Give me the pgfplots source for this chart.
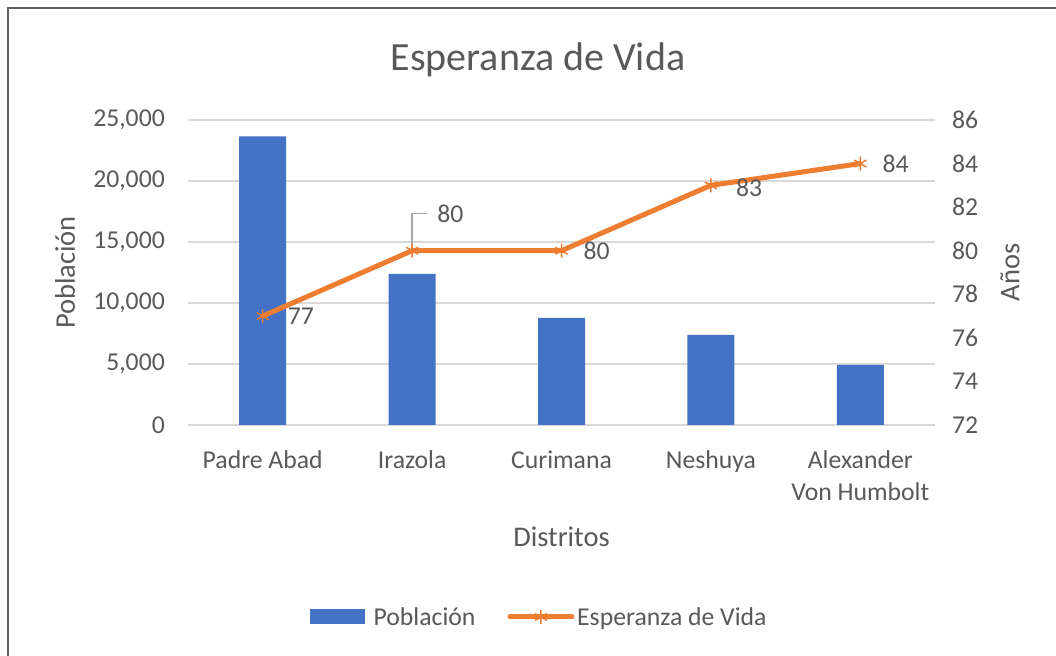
\documentclass[border=0pt]{standalone}
\usepackage{fontspec}
\setmainfont{Carlito}
\usepackage{pgfplots}
\pgfplotsset{compat=1.18}
\definecolor{barblue}{HTML}{4472C4}
\definecolor{lineor}{HTML}{ED7D31}
\definecolor{txt}{HTML}{595959}
\definecolor{gridc}{HTML}{D9D9D9}
\newcommand{\tickfont}{\fontsize{25.7bp}{32bp}\selectfont}
\newcommand{\labfont}{\fontsize{28.5bp}{34bp}\selectfont}
\newcommand{\titfont}{\fontsize{40bp}{48bp}\selectfont}
\begin{document}
\begin{tikzpicture}[x=1bp,y=1bp]
\useasboundingbox (0,0) rectangle (1056,656);
\draw[gray!75!black, line width=2bp] (8,0) -- (8,648) -- (1056,648);
\node[txt, font=\titfont] at (538,596) {Esperanza de Vida};
\begin{axis}[
  at={(188bp,231bp)}, anchor=south west, scale only axis,
  width=747bp, height=305bp,
  xmin=-0.5, xmax=4.5, ymin=0, ymax=25000,
  ytick={0,5000,10000,15000,20000,25000},
  xtick={0,1,2,3,4},
  xticklabels={\strut Padre Abad, \strut Irazola, \strut Curimana, \strut Neshuya, {\strut Alexander\\Von Humbolt}},
  axis line style={draw=none},
  major tick length=0pt,
  ymajorgrids, grid style={gridc, line width=1.5bp},
  scaled y ticks=false,
  /pgf/number format/.cd, 1000 sep={,}, assume math mode=true, /pgfplots/.cd,
  tick label style={font=\tickfont, txt, inner sep=0pt},
  yticklabel style={anchor=east, xshift=-23bp},
  xticklabel style={anchor=north, yshift=-20.5bp, align=center},
  xlabel={Distritos}, ylabel={Población},
  every axis x label/.style={at={(axis description cs:0.5,-0.367)}, anchor=center, font=\labfont, txt},
  every axis y label/.style={at={(axis description cs:-0.1647,0.5)}, anchor=center, rotate=90, font=\labfont, txt},
  legend style={at={(axis description cs:0.47,-0.6295)}, anchor=center, draw=none, font=\tickfont, text=txt, legend columns=2,
    /tikz/every even column/.append style={column sep=30bp}, inner sep=0pt},
]
\addplot[ybar, bar width=47bp, fill=barblue, draw=none,
  legend image code/.code={\fill[barblue] (0bp,-7.5bp) rectangle (55bp,7.5bp); \path (62bp,0bp);}]
  coordinates {(0,23650) (1,12380) (2,8770) (3,7380) (4,4920)};
\addlegendentry{Población}
\addlegendimage{legend image code/.code={
  \draw[lineor, line width=5bp, line cap=round] (0bp,0bp) -- (62bp,0bp);
  \draw[lineor, line width=1.5bp] plot[mark=asterisk, mark size=7bp] coordinates {(31bp,0bp)};
  \path (65bp,0bp);}}
\addlegendentry{Esperanza de Vida}
\end{axis}
\begin{axis}[
  at={(188bp,231bp)}, anchor=south west, scale only axis,
  width=747bp, height=305bp,
  xmin=-0.5, xmax=4.5, ymin=72, ymax=86,
  ytick={72,74,76,78,80,82,84,86},
  axis x line=none, axis y line*=right,
  axis line style={draw=none},
  major tick length=0pt,
  /pgf/number format/.cd, assume math mode=true, /pgfplots/.cd,
  tick label style={font=\tickfont, txt, inner sep=0pt},
  yticklabel style={anchor=west, xshift=17bp},
  ylabel={Años},
  every axis y label/.style={at={(axis description cs:1.1004,0.5)}, anchor=center, rotate=90, font=\labfont, txt},
  clip=false,
]
\addplot[lineor, line width=5bp, mark=asterisk, mark size=7bp, mark options={line width=1.5bp}]
  coordinates {(0,77) (1,80) (2,80) (3,83) (4,84)};
\draw[gray!70, line width=1.5bp] (axis cs:1,80) -- (axis cs:1,81.7) -- ([xshift=15bp]axis cs:1,81.7);
\node[anchor=west, txt, font=\tickfont, inner sep=0pt] at ([xshift=25bp]axis cs:1,81.7) {80};
\node[anchor=west, txt, font=\tickfont, inner sep=0pt] at ([xshift=25bp]axis cs:0,77) {77};
\node[anchor=west, txt, font=\tickfont, inner sep=0pt] at ([xshift=22bp]axis cs:2,80) {80};
\node[anchor=west, txt, font=\tickfont, inner sep=0pt] at ([xshift=25bp, yshift=-2bp]axis cs:3,83) {83};
\node[anchor=west, txt, font=\tickfont, inner sep=0pt] at ([xshift=22bp]axis cs:4,84) {84};
\end{axis}
\end{tikzpicture}
\end{document}
